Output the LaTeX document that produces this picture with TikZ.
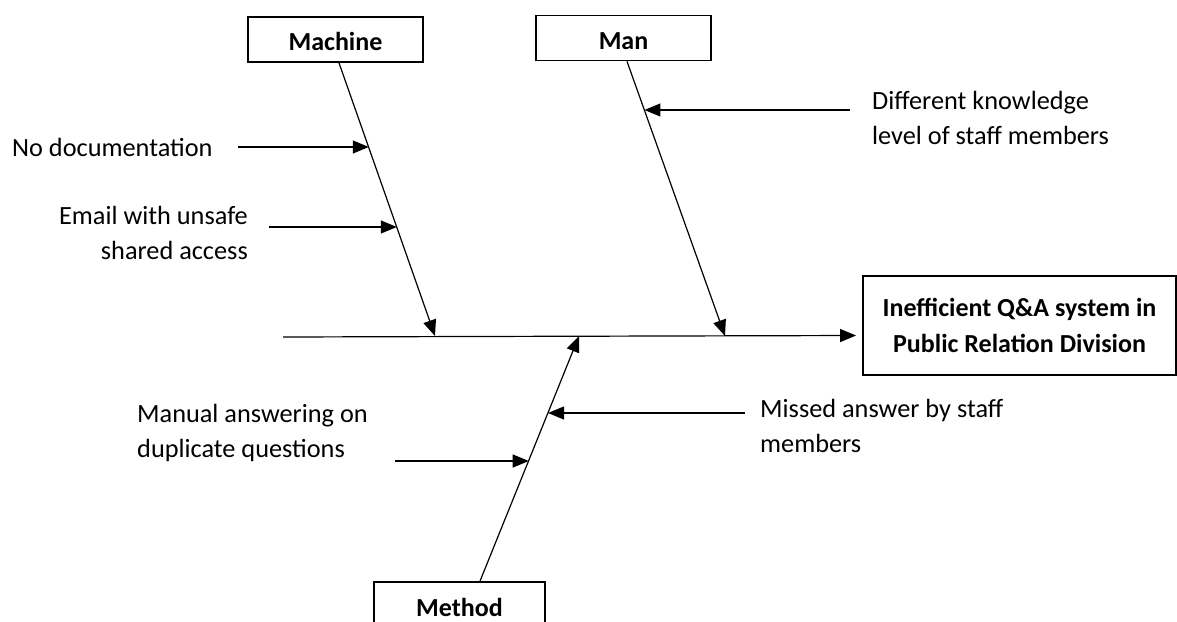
\documentclass[tikz,border=0pt]{standalone}
\usepackage{fontspec}
\setmainfont{Carlito}
\usetikzlibrary{arrows.meta}
\begin{document}
\begin{tikzpicture}[x=1pt,y=-1pt,
  catbox/.style={draw,line width=1.8pt,minimum width=175pt,minimum height=45pt,
    inner sep=0pt,text height=24pt,text depth=2pt,font=\fontsize{26}{36}\selectfont\bfseries},
  cause/.style={inner sep=0pt,font=\fontsize{26.3}{35}\selectfont},
  bone/.style={line width=1.2pt,-{Triangle[length=16pt,width=13pt]}},
  rib/.style={line width=1.2pt,-{Triangle[length=16pt,width=13pt]}}]
\useasboundingbox (0,0) rectangle (1177,621);
\clip (0,0) rectangle (1177,621);

% category boxes and the effect
\node[catbox] (machine) at (335.5,39.5) {Machine};
\node[catbox] (man) at (623.5,38) {Man};
\node[catbox,minimum width=171pt,minimum height=46pt] (method) at (459.5,605) {Method};
\node[draw,line width=1.8pt,minimum width=313pt,minimum height=99pt,inner sep=0pt,
  align=center,font=\fontsize{26}{36}\selectfont\bfseries] (effect) at (1019.5,325.5)
  {Inefficient Q\&A system in\\Public Relation Division};

% spine
\coordinate (tail) at (283,337);
\draw[bone] (tail) -- ([xshift=-6pt,yshift=-10pt]effect.west);

% main bones
\coordinate (jm) at (435,336);
\coordinate (jn) at (725,336);
\coordinate (jt) at (579,336);
\draw[bone] ([xshift=3.5pt]machine.south) -- (jm)
  coordinate[pos=0.31] (b1) coordinate[pos=0.602] (b2);
\draw[bone] ([xshift=3.5pt]man.south) -- (jn)
  coordinate[pos=0.178] (b3);
\draw[bone] ([xshift=20.5pt]method.north) -- (jt)
  coordinate[pos=0.687] (b4) coordinate[pos=0.492] (b5);

% causes
\node[cause,anchor=west] (nodoc) at (12,147) {No documentation};
\node[cause,anchor=east,align=right] (email) at (248,233) {Email with unsafe\\shared access};
\node[cause,anchor=west,align=left] (diff) at (872,118) {Different knowledge\\level of staff members};
\node[cause,anchor=west,align=left] (missed) at (760,426) {Missed answer by staff\\members};
\node[cause,anchor=west,align=left] (manual) at (137,433) {Manual answering on\\duplicate questions};

\coordinate (s1) at (238,147);
\coordinate (s2) at (269,227);
\coordinate (s3) at (850,110);
\coordinate (s4) at (745,413);
\coordinate (s5) at (395,461);
\draw[rib] (s1) -- (s1 -| b1);
\draw[rib] (s2) -- (s2 -| b2);
\draw[rib] (s3) -- (s3 -| b3);
\draw[rib] (s4) -- (s4 -| b4);
\draw[rib] (s5) -- (s5 -| b5);
\end{tikzpicture}
\end{document}
